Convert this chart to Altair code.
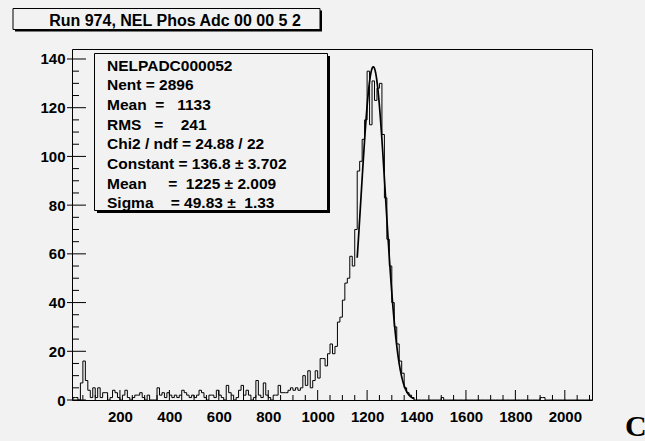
import altair as alt
import numpy as np
import pandas as pd

# ---- histogram contents: NEL Phos ADC, bins of width 10 starting at 0 ----
bin_width = 10
counts_low = [
    0, 1, 1, 0, 7, 16, 8, 4, 1, 5, 1, 5, 1, 3, 3, 0, 1, 4, 3, 1,
    0, 2, 4, 1, 0, 1, 2, 2, 3, 1, 0, 2, 0, 0, 0, 5, 2, 3, 1, 3,
    2, 1, 2, 1, 2, 4, 3, 2, 1, 2, 1, 2, 4, 3, 1, 0, 2, 2, 1, 4,
    2, 1, 0, 6, 3, 2, 0, 1, 4, 6, 2, 4, 2, 0, 1, 8, 2, 1, 7, 2,
    1, 0, 2, 2, 6, 3, 3, 3, 4, 5, 4, 5, 4, 5,
]
counts_peak = [
    10, 6, 12, 5, 8, 12, 9, 17, 17, 14, 19, 23, 19, 22, 32, 34, 41, 48,
    50, 59, 55, 70, 94, 98, 107, 115, 135, 113, 131, 123, 128, 130, 109,
    83, 66, 55, 40, 30, 23, 16, 11, 5, 3, 2, 1, 0,
]
n_bins = 211
isolated_bins = [150, 190, 191]
isolated_counts = [1, 1, 1]

# ---- Gaussian fit results ----
fit_constant = 136.8
fit_mean = 1225.0
fit_sigma = 49.83
fit_range = [1160, 1390]

# ---- statistics box text ----
stats_lines = [
    "NELPADC000052",
    "Nent = 2896",
    "Mean  =   1133",
    "RMS   =    241",
    "Chi2 / ndf = 24.88 / 22",
    "Constant = 136.8 ± 3.702",
    "Mean     =  1225 ± 2.009",
    "Sigma    = 49.83 ±  1.33",
]
title_text = "Run 974, NEL Phos Adc 00 00 5 2"

# ---- axis ticks ----
x_labels = list(range(200, 2001, 200))
x_minor = [v for v in range(50, 2101, 50) if v % 200]
y_labels = list(range(0, 141, 20))
y_minor = [v for v in range(5, 141, 5) if v % 20]

W, H = 520, 351
X_DOMAIN = [6, 2110]
Y_DOMAIN = [0, 144.1]
BG = "#f2f2f2"
FONT = "Liberation Sans"

counts = counts_low + counts_peak
counts = counts + [0] * (n_bins - len(counts))
for b, c in zip(isolated_bins, isolated_counts):
    counts[b] = c

hist = pd.DataFrame({
    "edge": [i * bin_width for i in range(n_bins)] + [n_bins * bin_width],
    "count": counts + [0],
})

fx = np.linspace(fit_range[0], fit_range[1], 300)
fit = pd.DataFrame({
    "x": fx,
    "y": fit_constant * np.exp(-0.5 * ((fx - fit_mean) / fit_sigma) ** 2),
})

xs = alt.Scale(domain=X_DOMAIN, nice=False, zero=False)
ys = alt.Scale(domain=Y_DOMAIN, nice=False, zero=False)

x_axis = alt.Axis(values=x_labels, format="d", ticks=False, domain=False, grid=False,
                  labelFont=FONT, labelFontSize=15, labelFontWeight="bold",
                  labelColor="black", labelPadding=9, title=None)
y_axis = alt.Axis(values=y_labels, format="d", ticks=False, domain=False, grid=False,
                  labelFont=FONT, labelFontSize=15, labelFontWeight="bold",
                  labelColor="black", labelPadding=7, title=None)

hist_line = alt.Chart(hist).mark_line(
    interpolate="step-after", color="black", strokeWidth=1, clip=True
).encode(
    x=alt.X("edge:Q", scale=xs, axis=x_axis),
    y=alt.Y("count:Q", scale=ys, axis=y_axis),
)

fit_line = alt.Chart(fit).mark_line(color="black", strokeWidth=1.7).encode(
    x=alt.X("x:Q", scale=xs), y=alt.Y("y:Q", scale=ys)
)

# inward-pointing tick marks in ROOT style
xmaj = alt.Chart(pd.DataFrame({"v": x_labels})).mark_rule(color="black", strokeWidth=1).encode(
    x=alt.X("v:Q", scale=xs), y=alt.value(H), y2=alt.value(H - 10))
xmin = alt.Chart(pd.DataFrame({"v": x_minor})).mark_rule(color="black", strokeWidth=1).encode(
    x=alt.X("v:Q", scale=xs), y=alt.value(H), y2=alt.value(H - 5))
ymaj = alt.Chart(pd.DataFrame({"v": y_labels})).mark_rule(color="black", strokeWidth=1).encode(
    y=alt.Y("v:Q", scale=ys), x=alt.value(-5), x2=alt.value(14))
ymin = alt.Chart(pd.DataFrame({"v": y_minor})).mark_rule(color="black", strokeWidth=1).encode(
    y=alt.Y("v:Q", scale=ys), x=alt.value(0), x2=alt.value(7))

one = pd.DataFrame({"k": [0]})


def box(x1, y1, x2, y2, shadow=2.5):
    sh = alt.Chart(one).mark_rect(color="black").encode(
        x=alt.value(x1 + shadow), x2=alt.value(x2 + shadow),
        y=alt.value(y1 + shadow), y2=alt.value(y2 + shadow))
    fg = alt.Chart(one).mark_rect(fill=BG, stroke="black", strokeWidth=1).encode(
        x=alt.value(x1), x2=alt.value(x2), y=alt.value(y1), y2=alt.value(y2))
    return sh + fg


# statistics / fit box, one text row per line
stats_box = box(22.5, 4.5, 255.5, 161.5)
stats_text = alt.layer(*[
    alt.Chart(one).mark_text(
        align="left", baseline="alphabetic", font=FONT, fontSize=15.5,
        fontWeight="bold", color="black", text=line.replace(" ", "\u00a0")
    ).encode(x=alt.value(35), y=alt.value(21.7 + i * 19.66))
    for i, line in enumerate(stats_lines)
])

# histogram title pave
title_box = box(-59, -40.5, 248, -19.5, shadow=2)
title_txt = alt.Chart(one).mark_text(
    align="center", baseline="alphabetic", font=FONT, fontSize=16,
    fontWeight="bold", color="black", text=title_text
).encode(x=alt.value(103), y=alt.value(-23))

corner = alt.Chart(one).mark_text(
    align="left", baseline="alphabetic", font="Liberation Serif", fontSize=30,
    fontWeight="bold", color="black", text="C"
).encode(x=alt.value(553), y=alt.value(387))

chart = alt.layer(
    hist_line, fit_line, xmaj, xmin, ymaj, ymin,
    stats_box, stats_text, title_box, title_txt, corner,
).properties(
    width=W, height=H,
    autosize=alt.AutoSizeParams(type="none"),
    padding={"left": 72, "top": 49, "right": 53, "bottom": 41},
    background=BG,
).configure_view(
    stroke="black", strokeWidth=1, fill=BG
)

chart.save("out.html", embed_options={"renderer": "svg", "actions": False})
